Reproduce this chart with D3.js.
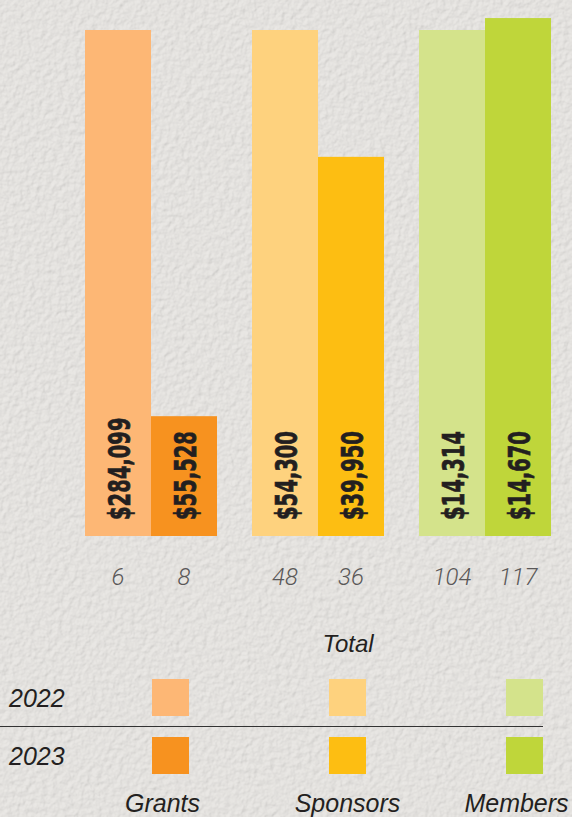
<!DOCTYPE html>
<html>
<head>
<meta charset="utf-8">
<script src="https://cdn.jsdelivr.net/npm/d3@7"></script>
<style>
  html, body { margin: 0; padding: 0; background: #e8e6e3; }
  svg { display: block; }
</style>
</head>
<body>
<div id="chart"></div>
<script>
// data
const categories = ['Grants', 'Sponsors', 'Members'];
const years = ['2022', '2023'];
const amounts2022 = [284099, 54300, 14314];
const amounts2023 = [55528, 39950, 14670];
const counts2022 = [6, 48, 104];
const counts2023 = [8, 36, 117];
const colors2022 = ['#fdb775', '#fed27e', '#d4e38b'];
const colors2023 = ['#f7921f', '#fdbe12', '#bfd63a'];

const width = 572, height = 817;
const baseline = 536, barTop = 30, labelPad = 26;

const svg = d3.select('#chart')
    .append('svg')
    .attr('width', width)
    .attr('height', height);

// paper texture
const defs = svg.append('defs');
const paper = defs.append('filter')
    .attr('id', 'paper')
    .attr('x', 0).attr('y', 0).attr('width', '100%').attr('height', '100%');
paper.append('feTurbulence')
    .attr('type', 'fractalNoise')
    .attr('baseFrequency', 0.18)
    .attr('numOctaves', 4)
    .attr('seed', 3)
    .attr('result', 'noise');
paper.append('feDiffuseLighting')
    .attr('in', 'noise')
    .attr('lighting-color', '#eceae7')
    .attr('surfaceScale', 0.9)
    .append('feDistantLight')
    .attr('azimuth', 45)
    .attr('elevation', 66);

svg.append('rect')
    .attr('width', width)
    .attr('height', height)
    .attr('fill', '#e8e6e3');
svg.append('rect')
    .attr('width', width)
    .attr('height', height)
    .attr('filter', 'url(#paper)')
    .attr('opacity', 0.8);

// one group per category, two bars inside
const groupWidth = 167;
const xGroup = d3.scalePoint().domain(categories).range([85, 85 + 2 * groupWidth]);
const xYear = d3.scaleBand().domain(years).range([0, 132]);

// every category gets its own vertical scale (amounts differ by orders of magnitude)
const yScales = categories.map((c, i) =>
    d3.scaleLinear()
        .domain([0, amounts2022[i]])
        .range([baseline - labelPad, barTop]));

const rows = [];
categories.forEach((c, i) => {
    rows.push({cat: c, i: i, year: '2022', amount: amounts2022[i], count: counts2022[i], color: colors2022[i]});
    rows.push({cat: c, i: i, year: '2023', amount: amounts2023[i], count: counts2023[i], color: colors2023[i]});
});

const fmt = d3.format('$,');

const bars = svg.append('g').selectAll('g')
    .data(rows)
    .enter()
    .append('g')
    .attr('transform', d => `translate(${xGroup(d.cat) + xYear(d.year)},0)`);

bars.append('rect')
    .attr('x', 0)
    .attr('width', xYear.bandwidth())
    .attr('y', d => yScales[d.i](d.amount))
    .attr('height', d => baseline - yScales[d.i](d.amount))
    .attr('fill', d => d.color);

// condensed bold labels: squeeze the bold face to the narrow width of the original
bars.append('text')
    .attr('transform', `translate(${xYear.bandwidth() / 2 + 11.5},520) rotate(-90)`)
    .attr('font-family', '"DejaVu Sans", sans-serif')
    .attr('font-weight', 'bold')
    .attr('font-size', '31px')
    .attr('fill', '#231f20')
    .attr('stroke', '#231f20')
    .attr('stroke-width', 0.7)
    .text(d => fmt(d.amount))
    .each(function() {
        const natural = this.getComputedTextLength();
        d3.select(this)
            .attr('textLength', natural * 0.63)
            .attr('lengthAdjust', 'spacingAndGlyphs');
    });

bars.append('text')
    .attr('x', xYear.bandwidth() / 2)
    .attr('y', 585)
    .attr('text-anchor', 'middle')
    .attr('font-family', 'Roboto, "Liberation Sans", sans-serif')
    .attr('font-weight', 300)
    .attr('font-style', 'italic')
    .attr('font-size', '24px')
    .attr('fill', '#5a5858')
    .text(d => d.count);

svg.append('text')
    .attr('x', 348)
    .attr('y', 652)
    .attr('text-anchor', 'middle')
    .attr('font-family', '"Liberation Sans", Arial, sans-serif')
    .attr('font-style', 'italic')
    .attr('font-size', '24px')
    .attr('fill', '#231f20')
    .text('Total');

// legend
const legendX = d3.scalePoint().domain(categories).range([170.5, 524.5]);
const legendY = d3.scalePoint().domain(years).range([697.5, 755.5]);
const labelShift = [-8, 0, -8];

const legend = svg.append('g');
legend.selectAll('text.year')
    .data(years)
    .enter()
    .append('text')
    .attr('class', 'year')
    .attr('x', 9)
    .attr('y', d => legendY(d) + 9)
    .attr('font-family', '"Liberation Sans", Arial, sans-serif')
    .attr('font-style', 'italic')
    .attr('font-size', '25px')
    .attr('fill', '#231f20')
    .text(d => d);

legend.selectAll('rect')
    .data(rows)
    .enter()
    .append('rect')
    .attr('x', d => legendX(d.cat) - 18.5)
    .attr('y', d => legendY(d.year) - 18.5)
    .attr('width', 37)
    .attr('height', 37)
    .attr('fill', d => d.color);

legend.append('line')
    .attr('x1', 0)
    .attr('x2', 543)
    .attr('y1', 726.5)
    .attr('y2', 726.5)
    .attr('stroke', '#333')
    .attr('stroke-width', 1);

legend.selectAll('text.cat')
    .data(categories)
    .enter()
    .append('text')
    .attr('class', 'cat')
    .attr('x', (d, i) => legendX(d) + labelShift[i])
    .attr('y', 812)
    .attr('text-anchor', 'middle')
    .attr('font-family', '"Liberation Sans", Arial, sans-serif')
    .attr('font-style', 'italic')
    .attr('font-size', '25px')
    .attr('fill', '#231f20')
    .text(d => d);
</script>
</body>
</html>
